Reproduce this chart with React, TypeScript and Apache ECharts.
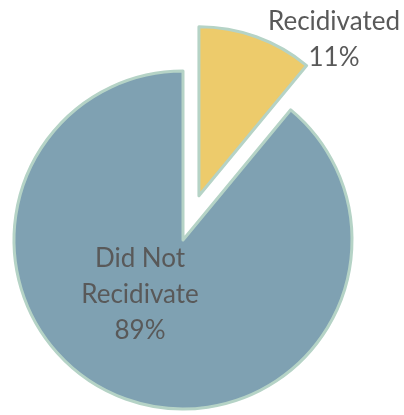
import React, { useEffect, useRef } from "react";
import * as echarts from "echarts";

const categories = ["Recidivated", "Did Not\nRecidivate"];
const values = [11, 89];
const colors = ["#EDCB6B", "#7FA1B2"];
const labelPos = [
  { x: 334, y: 38 },
  { x: 140, y: 293 },
];

export default function App() {
  const ref = useRef<HTMLDivElement>(null);
  useEffect(() => {
    if (!ref.current) return;
    const chart = echarts.init(ref.current, null, { renderer: "svg" });
    const total = values.reduce((a, b) => a + b, 0);
    chart.setOption({
      animation: false,
      graphic: categories.map((c, i) => ({
        type: "text",
        x: labelPos[i].x,
        y: labelPos[i].y,
        z: 100,
        style: {
          text: `${c}\n${Math.round((values[i] / total) * 100)}%`,
          fill: "#595959",
          font: "26px Lato",
          lineHeight: 36,
          align: "center",
          verticalAlign: "middle",
        },
      })),
      series: [
        {
          type: "pie",
          center: [183, 240],
          radius: [0, 169],
          startAngle: 90,
          clockwise: true,
          selectedMode: "single",
          selectedOffset: 47,
          avoidLabelOverlap: false,
          itemStyle: { borderColor: "#B5D3C6", borderWidth: 3 },
          emphasis: { disabled: true },
          label: { show: false },
          labelLine: { show: false },
          data: categories.map((c, i) => ({
            name: c,
            value: values[i],
            selected: i === 0,
            itemStyle: { color: colors[i] },
          })),
        },
      ],
    });
    return () => chart.dispose();
  }, []);
  return (
    <div
      ref={ref}
      style={{ position: "fixed", left: 0, top: 0, width: 404, height: 415 }}
    />
  );
}
